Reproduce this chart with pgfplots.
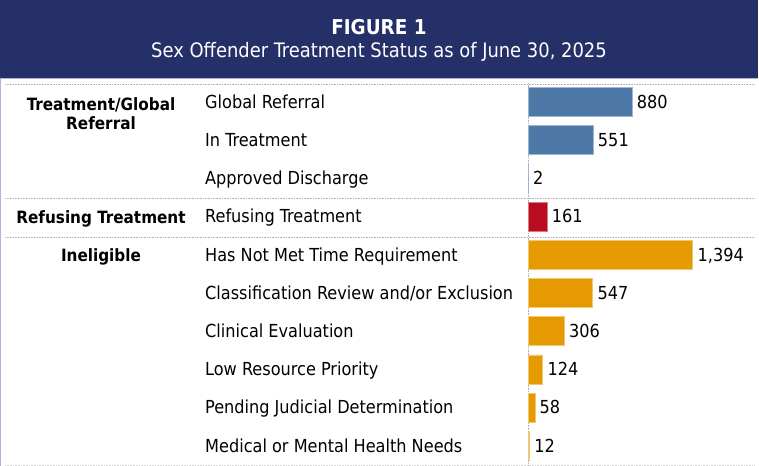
\documentclass[border=0pt]{standalone}
\usepackage{pgfplots}
\pgfplotsset{compat=1.18}
\usepackage{fontspec}
\setmainfont{DejaVuSansCondensed.ttf}[BoldFont=DejaVuSansCondensed-Bold.ttf]

\definecolor{navy}{RGB}{37,47,104}
\definecolor{barblue}{RGB}{78,121,167}
\definecolor{barred}{RGB}{185,12,32}
\definecolor{barorange}{RGB}{228,154,0}
\definecolor{frame}{RGB}{176,180,210}

\newcommand{\rowfont}{\fontsize{18}{21}\selectfont}
\newcommand{\grpfont}{\fontsize{17}{20}\selectfont\bfseries}

\begin{document}
\begin{tikzpicture}
\begin{scope}[x=1bp,y=-1bp]
% header band
\fill[navy] (0,0) rectangle (758,78);
\draw[frame,line width=1bp] (0,78) -- (758,78);
\node[white,font=\fontsize{20.5}{24}\selectfont\bfseries] at (379,27) {FIGURE 1};
\node[white,font=\fontsize{20}{23}\selectfont] at (379,52) {Sex Offender Treatment Status as of June 30, 2025};
\draw[frame,line width=1.2bp] (0.6,78) -- (0.6,466);
% dotted row separators
\foreach \yy in {84,198,237}
  \draw[gray!60,densely dotted,line width=0.6bp] (5,\yy) -- (755,\yy);
\draw[gray!30,densely dotted,line width=0.6bp] (5,465) -- (755,465);
% group labels
\node[font=\grpfont,align=center] at (101,114) {Treatment/Global\\[-1pt]Referral};
\node[font=\grpfont] at (101,218.5) {Refusing Treatment};
\node[font=\grpfont] at (101,256.5) {Ineligible};
\end{scope}

\begin{axis}[
    at={(528bp,-83bp)}, anchor=north west,
    scale only axis,
    width=231bp, height=382bp,
    xmin=0, xmax=1954,
    ymin=-0.5, ymax=9.5,
    y dir=reverse,
    axis x line=none,
    axis y line*=left,
    y axis line style={gray!60,densely dotted,line width=0.6bp,-},
    ytick={0,...,9},
    major tick length=0pt,
    yticklabels={Global Referral,In Treatment,Approved Discharge,Refusing Treatment,Has Not Met Time Requirement,Classification Review and/or Exclusion,Clinical Evaluation,Low Resource Priority,Pending Judicial Determination,Medical or Mental Health Needs},
    yticklabel style={anchor=west,xshift=-323bp,yshift=-2.5bp,inner sep=0pt,font=\rowfont,text height=0.95em,text depth=0.22em},
    xbar,
    bar width=0.76,
    bar shift=0pt,
    clip=false,
    nodes near coords={\pgfmathprintnumber[1000 sep={,},assume math mode=true]{\pgfplotspointmeta}},
    every node near coord/.append style={font=\rowfont,black,anchor=west,inner sep=0pt,xshift=4.5bp,yshift=-2.5bp,text height=0.95em,text depth=0.22em},
    point meta=explicit,
]
\addplot[fill=barblue,draw=barblue!55!white,line width=0.7bp] coordinates {(880,0) [880] (551,1) [551] (2,2) [2]};
\addplot[fill=barred,draw=barred!55!white,line width=0.7bp] coordinates {(161,3) [161]};
\addplot[fill=barorange,draw=barorange!55!white,line width=0.7bp] coordinates {(1394,4) [1394] (547,5) [547] (306,6) [306] (124,7) [124] (58,8) [58] (12,9) [12]};
\end{axis}
\pgfresetboundingbox
\path[use as bounding box] (0,0) rectangle (759bp,-466bp);
\end{tikzpicture}
\end{document}
